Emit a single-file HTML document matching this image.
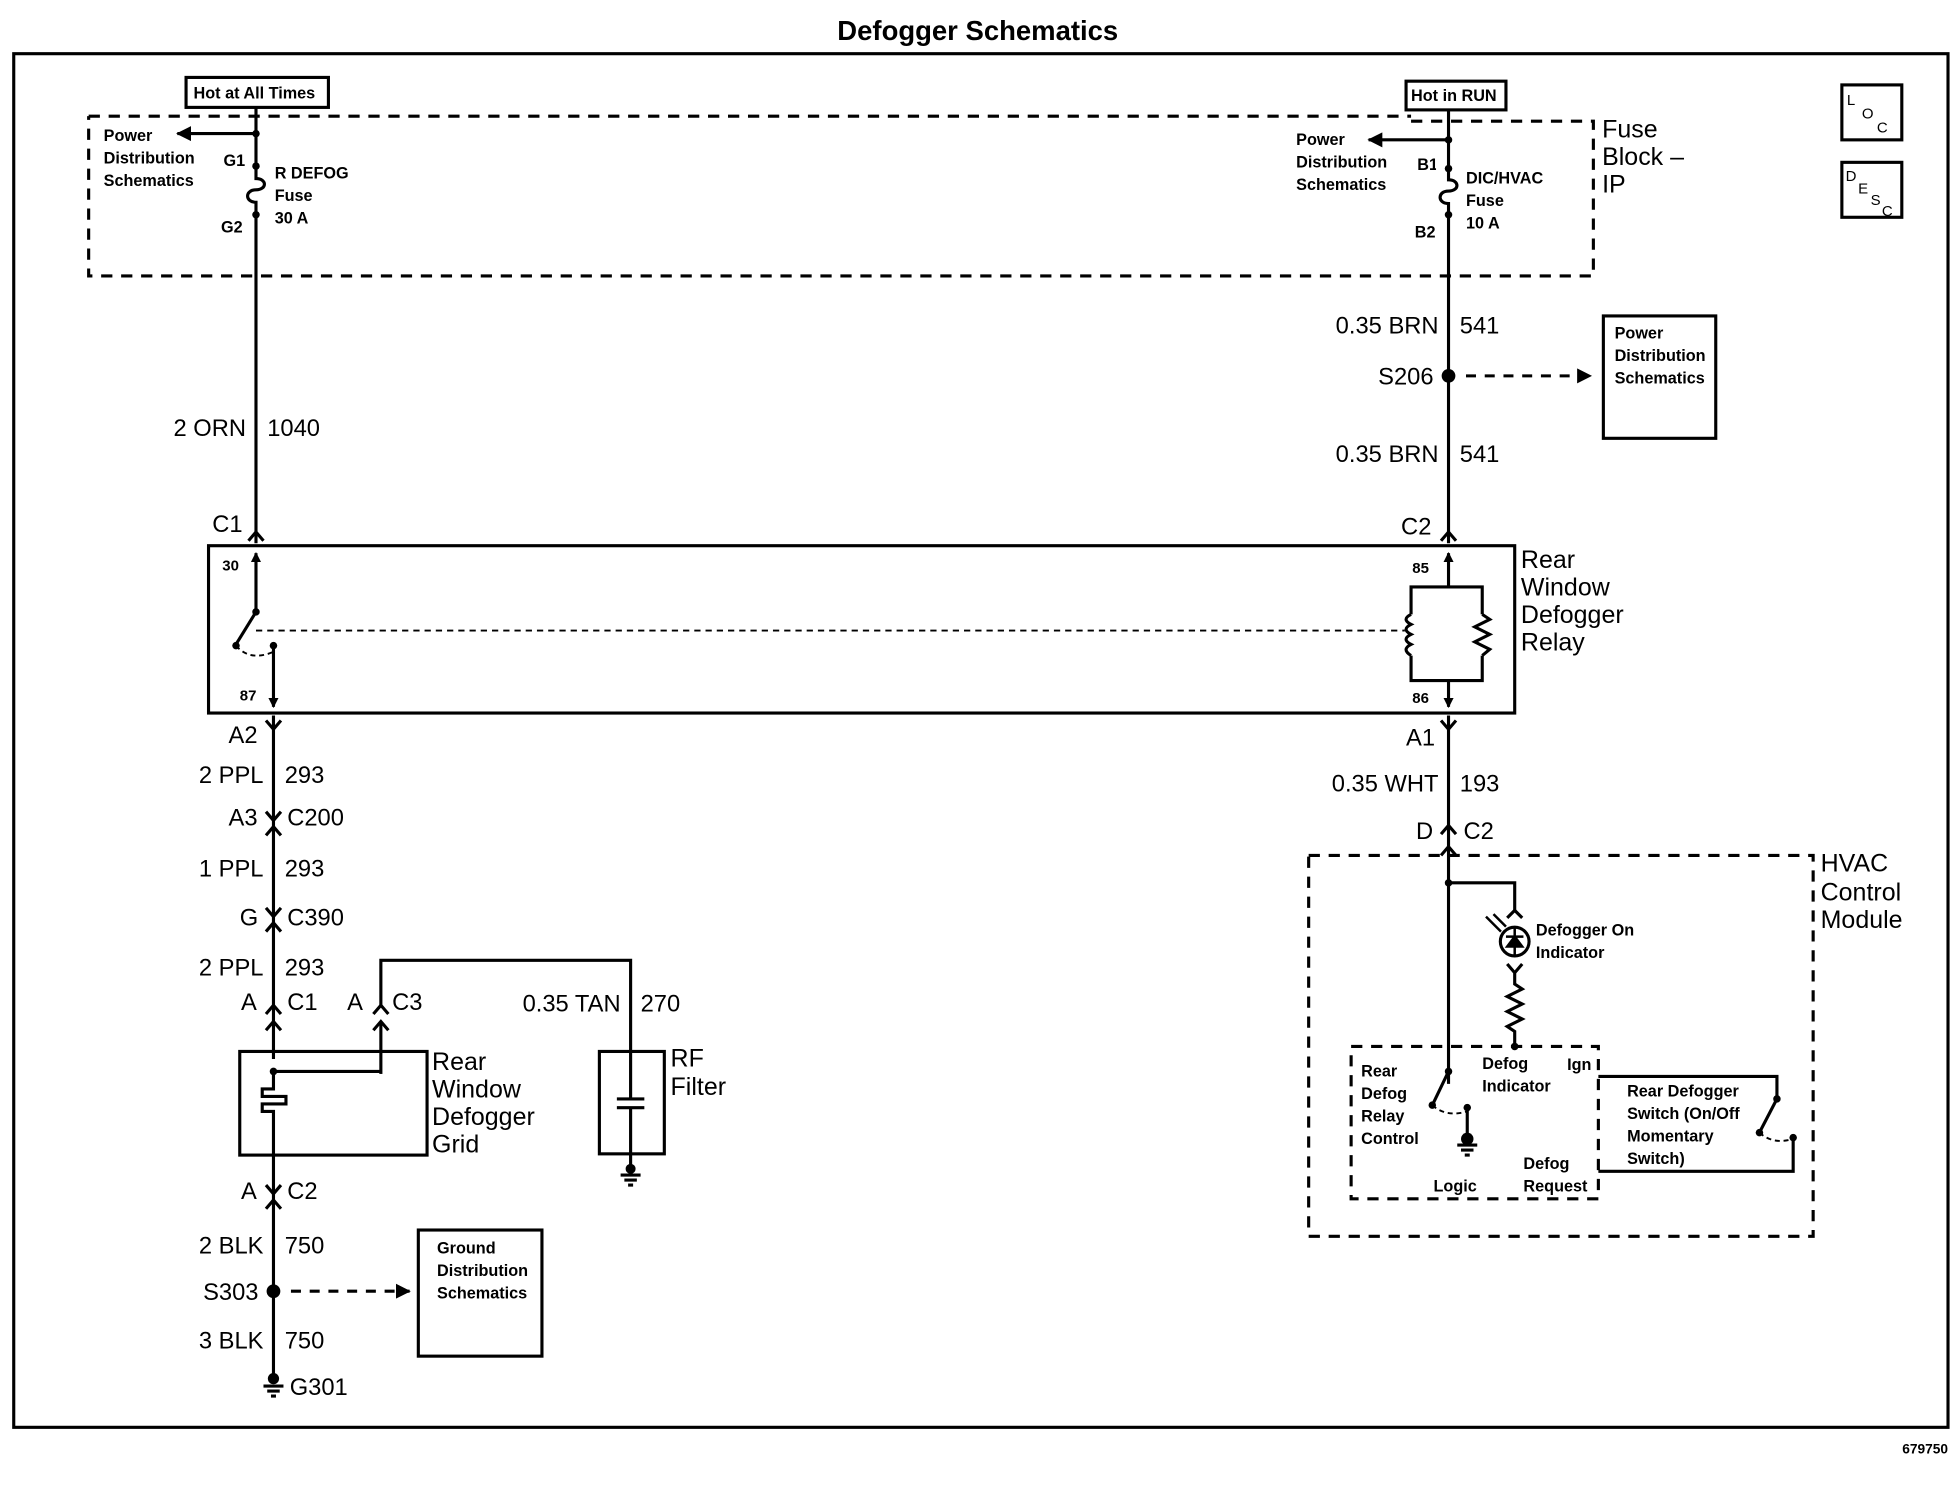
<!DOCTYPE html>
<html><head><meta charset="utf-8"><style>
html,body{margin:0;padding:0;background:#fff;}
svg{display:block}
text{font-family:"Liberation Sans",Arial,sans-serif;fill:#000;}
.t{font-size:13px;font-weight:bold;}
.m{font-size:19px;}
.l{font-size:20px;}
.w{stroke:#000;stroke-width:2.5;fill:none;}
.d{stroke:#000;stroke-width:2.5;fill:none;stroke-dasharray:9 7;}
.d2{stroke:#000;stroke-width:1.5;fill:none;stroke-dasharray:4 3;}
</style></head><body>
<svg width="1958" height="1504" viewBox="0 0 1568 1204.4" preserveAspectRatio="none">
<defs>
<marker id="ah" markerWidth="8" markerHeight="8" refX="7" refY="4" orient="auto" markerUnits="userSpaceOnUse"><path d="M0,0 L8,4 L0,8z" fill="#000"/></marker>
<marker id="ah2" markerWidth="12" markerHeight="12" refX="11" refY="6" orient="auto" markerUnits="userSpaceOnUse"><path d="M0,0 L12,6 L0,12z" fill="#000"/></marker>
</defs>
<text x="783" y="32" text-anchor="middle" style="font-size:22px;font-weight:bold">Defogger Schematics</text>
<rect x="11" y="43" width="1549" height="1100" class="w"/>
<text x="1560" y="1164" text-anchor="end" style="font-size:11px;font-weight:bold">679750</text>

<rect x="1475" y="68" width="48" height="44" class="w"/>
<text x="1479" y="84" style="font-size:12px">L</text><text x="1491" y="95" style="font-size:12px">O</text><text x="1503" y="106" style="font-size:12px">C</text>
<rect x="1475" y="130" width="48" height="44" class="w"/>
<text x="1478" y="145" style="font-size:12px">D</text><text x="1488" y="155" style="font-size:12px">E</text><text x="1498" y="164" style="font-size:12px">S</text><text x="1507" y="173" style="font-size:12px">C</text>

<path d="M71,93 H1130 M1130,97 H1276 V221 H71 V93" class="d"/>
<text x="1283" y="110" class="l">Fuse</text><text x="1283" y="132" class="l">Block –</text><text x="1283" y="154" class="l">IP</text>

<rect x="149" y="62" width="114" height="24" class="w"/>
<text x="155" y="79" class="t">Hot at All Times</text>
<line x1="205" y1="86" x2="205" y2="133" class="w"/>
<line x1="205" y1="107" x2="142" y2="107" class="w" marker-end="url(#ah2)"/>
<circle cx="205" cy="107" r="3"/>
<text x="83" y="113" class="t">Power</text><text x="83" y="131" class="t">Distribution</text><text x="83" y="149" class="t">Schematics</text>
<text x="179" y="133" class="t">G1</text><text x="177" y="186" class="t">G2</text>
<circle cx="205" cy="133" r="3"/><circle cx="205" cy="172" r="3"/>
<path d="M205,133 V143 C214,143 214,152 205,152 C196,152 196,162 205,162 V172" class="w"/>
<text x="220" y="143" class="t">R DEFOG</text><text x="220" y="161" class="t">Fuse</text><text x="220" y="179" class="t">30 A</text>
<line x1="205" y1="172" x2="205" y2="435" class="w"/>
<text x="197" y="349" text-anchor="end" class="m">2 ORN</text><text x="214" y="349" class="m">1040</text>
<text x="170" y="426" class="m">C1</text>
<path d="M199,433 L205,426 L211,433" class="w"/>

<rect x="1126" y="65" width="80" height="23" class="w"/>
<text x="1130" y="81" class="t">Hot in RUN</text>
<line x1="1160" y1="88" x2="1160" y2="435" class="w"/>
<line x1="1160" y1="112" x2="1096" y2="112" class="w" marker-end="url(#ah2)"/>
<circle cx="1160" cy="112" r="3"/>
<text x="1038" y="116" class="t">Power</text><text x="1038" y="134" class="t">Distribution</text><text x="1038" y="152" class="t">Schematics</text>
<text x="1135" y="136" class="t">B1</text><text x="1133" y="190" class="t">B2</text>
<rect x="1150" y="134" width="20" height="40" fill="#fff"/>
<path d="M1160,134 V144 C1169,144 1169,153 1160,153 C1151,153 1151,163 1160,163 V174" class="w"/>
<circle cx="1160" cy="135" r="3"/><circle cx="1160" cy="172" r="3"/>
<text x="1174" y="147" class="t">DIC/HVAC</text><text x="1174" y="165" class="t">Fuse</text><text x="1174" y="183" class="t">10 A</text>
<text x="1152" y="267" text-anchor="end" class="m">0.35 BRN</text><text x="1169" y="267" class="m">541</text>
<circle cx="1160" cy="301" r="5.5"/>
<text x="1148" y="308" text-anchor="end" class="m">S206</text>
<line x1="1174" y1="301" x2="1274" y2="301" class="d" style="stroke-dasharray:8 7" marker-end="url(#ah2)"/>
<rect x="1284" y="253" width="90" height="98" class="w"/>
<text x="1293" y="271" class="t">Power</text><text x="1293" y="289" class="t">Distribution</text><text x="1293" y="307" class="t">Schematics</text>
<text x="1152" y="370" text-anchor="end" class="m">0.35 BRN</text><text x="1169" y="370" class="m">541</text>
<text x="1122" y="428" class="m">C2</text>
<path d="M1154,433 L1160,426 L1166,433" class="w"/>

<rect x="167" y="437" width="1046" height="134" class="w"/>
<text x="1218" y="455" class="l">Rear</text><text x="1218" y="477" class="l">Window</text><text x="1218" y="499" class="l">Defogger</text><text x="1218" y="521" class="l">Relay</text>
<text x="178" y="457" style="font-size:12px;font-weight:bold">30</text>
<text x="192" y="561" style="font-size:12px;font-weight:bold">87</text>
<line x1="205" y1="490" x2="205" y2="443" class="w" marker-end="url(#ah)"/>
<circle cx="205" cy="490" r="3"/>
<line x1="205" y1="490" x2="189" y2="516" class="w"/>
<circle cx="189" cy="517" r="3"/><circle cx="219" cy="517" r="3"/>
<path d="M189,517 Q200,530 219,522" class="d2"/>
<line x1="219" y1="517" x2="219" y2="566" class="w" marker-end="url(#ah)"/>
<line x1="205" y1="505" x2="1125" y2="505" class="d2" style="stroke-dasharray:5 4"/>
<text x="1131" y="459" style="font-size:12px;font-weight:bold">85</text>
<text x="1131" y="563" style="font-size:12px;font-weight:bold">86</text>
<line x1="1160" y1="470" x2="1160" y2="443" class="w" marker-end="url(#ah)"/>
<line x1="1160" y1="545" x2="1160" y2="566" class="w" marker-end="url(#ah)"/>
<path d="M1160,470 H1130 V492 M1130,525 V545 H1187 V525 M1187,492 V470 H1160" class="w"/>
<path d="M1130,492 q-8,4 0,8 q-8,4 0,8 q-8,4 0,8 q-8,4 0,9" class="w"/>
<path d="M1187,492 l6,4 l-12,6 l12,6 l-12,6 l12,6 l-6,5" class="w"/>

<line x1="219" y1="573" x2="219" y2="848" class="w"/>
<path d="M213,577 L219,584 L225,577" class="w"/>
<text x="183" y="595" class="m">A2</text>
<text x="211" y="627" text-anchor="end" class="m">2 PPL</text><text x="228" y="627" class="m">293</text>
<text x="183" y="661" class="m">A3</text><text x="230" y="661" class="m">C200</text>
<path d="M213,650 L219,657 L225,650 M213,669 L219,662 L225,669" class="w"/>
<text x="211" y="702" text-anchor="end" class="m">1 PPL</text><text x="228" y="702" class="m">293</text>
<text x="192" y="741" class="m">G</text><text x="230" y="741" class="m">C390</text>
<path d="M213,727 L219,734 L225,727 M213,746 L219,739 L225,746" class="w"/>
<text x="211" y="781" text-anchor="end" class="m">2 PPL</text><text x="228" y="781" class="m">293</text>
<text x="193" y="809" class="m">A</text><text x="230" y="809" class="m">C1</text>
<path d="M213,812 L219,805 L225,812 M213,825 L219,818 L225,825" class="w"/>
<text x="278" y="809" class="m">A</text><text x="314" y="809" class="m">C3</text>
<path d="M299,812 L305,805 L311,812 M299,825 L305,818 L311,825" class="w"/>
<path d="M305,805 V769 H505 V842" class="w"/>
<line x1="305" y1="818" x2="305" y2="860" class="w"/>
<text x="497" y="810" text-anchor="end" class="m">0.35 TAN</text><text x="513" y="810" class="m">270</text>
<rect x="192" y="842" width="150" height="83" class="w"/>
<path d="M219,858 H305 M219,858 V872 H210 V878 H229 V884 H210 V890 H219 V925" class="w"/>
<circle cx="219" cy="858" r="3"/>
<text x="346" y="857" class="l">Rear</text><text x="346" y="879" class="l">Window</text><text x="346" y="901" class="l">Defogger</text><text x="346" y="923" class="l">Grid</text>
<rect x="480" y="842" width="52" height="82" class="w"/>
<path d="M505,842 V880 M494,880 H516 M494,887 H516 M505,887 V935" class="w"/>
<circle cx="505" cy="936" r="4"/>
<path d="M497,941 H513 M500,945 H510 M503,949 H507" class="w"/>
<text x="537" y="854" class="l">RF</text><text x="537" y="877" class="l">Filter</text>
<line x1="219" y1="925" x2="219" y2="1100" class="w"/>
<text x="193" y="960" class="m">A</text><text x="230" y="960" class="m">C2</text>
<path d="M213,949 L219,956 L225,949 M213,968 L219,961 L225,968" class="w"/>
<text x="211" y="1004" text-anchor="end" class="m">2 BLK</text><text x="228" y="1004" class="m">750</text>
<circle cx="219" cy="1034" r="5.5"/>
<text x="207" y="1041" text-anchor="end" class="m">S303</text>
<line x1="233" y1="1034" x2="328" y2="1034" class="d" style="stroke-dasharray:8 7" marker-end="url(#ah2)"/>
<rect x="335" y="985" width="99" height="101" class="w"/>
<text x="350" y="1004" class="t">Ground</text><text x="350" y="1022" class="t">Distribution</text><text x="350" y="1040" class="t">Schematics</text>
<text x="211" y="1080" text-anchor="end" class="m">3 BLK</text><text x="228" y="1080" class="m">750</text>
<circle cx="219" cy="1104" r="4.5"/>
<path d="M211,1110 H227 M214,1114 H224 M217,1118 H221" class="w"/>
<text x="232" y="1117" class="m">G301</text>

<line x1="1160" y1="573" x2="1160" y2="868" class="w"/>
<path d="M1154,577 L1160,584 L1166,577" class="w"/>
<text x="1126" y="597" class="m">A1</text>
<text x="1152" y="634" text-anchor="end" class="m">0.35 WHT</text><text x="1169" y="634" class="m">193</text>
<text x="1134" y="672" class="m">D</text><text x="1172" y="672" class="m">C2</text>
<path d="M1154,668 L1160,661 L1166,668 M1154,685 L1160,678 L1166,685" class="w"/>
<rect x="1048" y="685" width="404" height="305" class="d"/>
<text x="1458" y="698" class="l">HVAC</text><text x="1458" y="721" class="l">Control</text><text x="1458" y="743" class="l">Module</text>
<circle cx="1160" cy="707" r="3"/>
<path d="M1160,707 H1213 V730" class="w"/>
<path d="M1207,735 L1213,729 L1219,735" class="w"/>
<circle cx="1213" cy="754" r="11.5" class="w"/>
<path d="M1206,750 H1220 M1213,750 L1207,758 H1219 Z M1213,743 V765" stroke="#000" stroke-width="2" fill="#000"/>
<path d="M1190,734 L1202,746 M1196,732 L1206,742" stroke="#000" stroke-width="2"/>
<text x="1230" y="749" class="t">Defogger On</text><text x="1230" y="767" class="t">Indicator</text>
<path d="M1207,772 L1213,779 L1219,772 M1213,779 V788 l6,4 l-12,6 l12,6 l-12,6 l12,6 l-12,6 l6,4 V838" class="w"/>
<circle cx="1213" cy="838" r="3"/>
<rect x="1082" y="838" width="198" height="122" class="d"/>
<text x="1090" y="862" class="t">Rear</text><text x="1090" y="880" class="t">Defog</text><text x="1090" y="898" class="t">Relay</text><text x="1090" y="916" class="t">Control</text>
<text x="1187" y="856" class="t">Defog</text><text x="1187" y="874" class="t">Indicator</text>
<text x="1255" y="857" class="t">Ign</text>
<text x="1220" y="936" class="t">Defog</text><text x="1220" y="954" class="t">Request</text>
<text x="1148" y="954" class="t">Logic</text>
<circle cx="1160" cy="858" r="3"/>
<line x1="1160" y1="858" x2="1148" y2="883" class="w"/>
<circle cx="1147" cy="885" r="3"/><circle cx="1175" cy="887" r="3"/>
<path d="M1147,885 Q1158,895 1175,890" class="d2"/>
<path d="M1175,887 V912" class="w"/><circle cx="1175" cy="912" r="5"/>
<path d="M1167,917 H1183 M1170,921 H1180 M1173,925 H1177" class="w"/>
<path d="M1280,862 H1423 V880 M1280,938 H1436 V911" class="w"/>
<circle cx="1423" cy="880" r="3"/><circle cx="1409" cy="907" r="3"/><circle cx="1436" cy="911" r="3"/>
<line x1="1423" y1="880" x2="1410" y2="905" class="w"/>
<path d="M1409,907 Q1420,917 1436,912" class="d2"/>
<text x="1303" y="878" class="t">Rear Defogger</text><text x="1303" y="896" class="t">Switch (On/Off</text><text x="1303" y="914" class="t">Momentary</text><text x="1303" y="932" class="t">Switch)</text>
</svg>
</body></html>
